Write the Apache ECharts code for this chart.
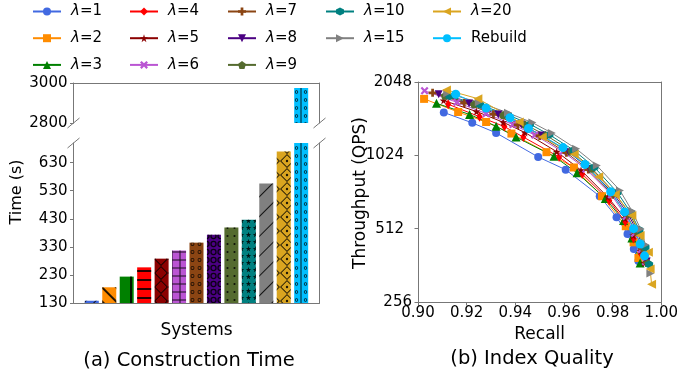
<!DOCTYPE html>
<html>
<head>
<meta charset="utf-8">
<script src="https://cdn.jsdelivr.net/npm/echarts@6/dist/echarts.min.js"></script>
<style>
  html, body { margin: 0; padding: 0; background: #fff; }
  #chart { width: 681px; height: 376px; }
</style>
</head>
<body>
<div id="chart"></div>
<script>
// ---- data ----
const systems = ['λ=1', 'λ=2', 'λ=3', 'λ=4', 'λ=5', 'λ=6', 'λ=7', 'λ=8', 'λ=9', 'λ=10', 'λ=15', 'λ=20', 'Rebuild'];
const buildTime = [138, 186, 224, 257, 288, 317, 345, 373, 399, 427, 556, 670, 2975];
const timeTicksLow = [130, 230, 330, 430, 530, 630];
const timeTicksHigh = [2800, 3000];
const qpsTicks = [256, 512, 1024, 2048];

const recall1 = [0.9106, 0.9223, 0.9321, 0.9494, 0.9607, 0.9747, 0.9816, 0.9861, 0.9887, 0.9906];
const qps1 = [1536, 1392, 1266, 1008, 894, 696, 571, 487, 422, 377];
const recall2 = [0.9025, 0.9165, 0.928, 0.9384, 0.9528, 0.9641, 0.9756, 0.9854, 0.9886, 0.9906];
const qps2 = [1746, 1542, 1403, 1258, 1055, 913, 696, 524, 450, 388];
const recall3 = [0.9076, 0.9212, 0.9321, 0.9403, 0.9559, 0.9654, 0.977, 0.9845, 0.9879, 0.9913];
const qps3 = [1674, 1507, 1348, 1217, 1014, 868, 681, 553, 469, 370];
const recall4 = [0.9124, 0.9253, 0.9355, 0.9433, 0.958, 0.9675, 0.9786, 0.9852, 0.9886, 0.9913];
const qps4 = [1660, 1475, 1344, 1217, 1008, 858, 668, 546, 467, 410];
const recall5 = [0.9105, 0.924, 0.935, 0.944, 0.957, 0.967, 0.978, 0.985, 0.9885, 0.9915, 0.993];
const qps5 = [1720, 1550, 1400, 1270, 1060, 890, 690, 565, 480, 415, 370];
const recall6 = [0.9027, 0.916, 0.928, 0.939, 0.948, 0.9595, 0.969, 0.9795, 0.9855, 0.989, 0.9918, 0.9935];
const qps6 = [1885, 1690, 1520, 1370, 1240, 1060, 900, 705, 575, 490, 420, 375];
const recall7 = [0.906, 0.919, 0.931, 0.941, 0.95, 0.961, 0.97, 0.98, 0.986, 0.9895, 0.992, 0.994];
const qps7 = [1848, 1680, 1510, 1365, 1230, 1050, 895, 705, 580, 495, 425, 372];
const recall8 = [0.9085, 0.921, 0.933, 0.9425, 0.951, 0.962, 0.9705, 0.9805, 0.9865, 0.99, 0.9925, 0.994];
const qps8 = [1826, 1670, 1505, 1370, 1235, 1055, 900, 710, 585, 500, 428, 375];
const recall9 = [0.911, 0.923, 0.935, 0.944, 0.9525, 0.963, 0.9715, 0.981, 0.987, 0.9905, 0.993, 0.9945];
const qps9 = [1800, 1660, 1500, 1370, 1240, 1065, 905, 715, 590, 500, 430, 370];
const recall10 = [0.913, 0.9255, 0.937, 0.946, 0.954, 0.964, 0.9725, 0.982, 0.9875, 0.991, 0.9935, 0.995];
const qps10 = [1790, 1650, 1500, 1375, 1245, 1075, 915, 720, 595, 505, 430, 365];
const recall15 = [0.912, 0.925, 0.937, 0.947, 0.955, 0.965, 0.9735, 0.983, 0.988, 0.9915, 0.9935, 0.9955];
const qps15 = [1840, 1690, 1530, 1395, 1265, 1090, 930, 735, 605, 510, 440, 335];
const recall20 = [0.9117, 0.9246, 0.9416, 0.9511, 0.9642, 0.9743, 0.9811, 0.9879, 0.9913, 0.9947, 0.9954, 0.996];
const qps20 = [1900, 1750, 1403, 1217, 1035, 837, 708, 580, 480, 410, 350, 303];
const recallRebuild = [0.9155, 0.928, 0.9378, 0.9454, 0.9596, 0.9686, 0.9792, 0.9849, 0.9886, 0.9913, 0.9931];
const qpsRebuild = [1826, 1600, 1460, 1320, 1102, 940, 726, 600, 512, 443, 396];

// ---- styles ----
const FONT = 'DejaVu Sans';
const SPINE = '#777';
const colors = ['#4169E1', '#FF8C00', '#008000', '#FF0000', '#8B0000', '#BA55D3', '#8B4513',
  '#4B0082', '#556B2F', '#008080', '#808080', '#DAA520', '#00BFFF'];

const ink = 'rgba(0,0,0,0.85)';
const ring = 'path://M10,0A10,10,0,1,1,9.99,0Z M10,4A6,6,0,1,0,10.01,4Z';
const diamondLattice = 'path://M7,0L14,7L7,14L0,7Z M7,1.3L1.3,7L7,12.7L12.7,7Z';
const diamondDot = 'path://M7,0L14,7L7,14L0,7Z M7,1.3L1.3,7L7,12.7L12.7,7Z M7,5.8A1.2,1.2,0,1,1,6.99,5.8Z';
const gridCell = 'path://M0,3.5H8V4.5H0Z M3.5,0H4.5V3.5H3.5Z M3.5,4.5H4.5V8H3.5Z';
const starPath = 'path://M50,0L61,35L98,35L68,57L79,91L50,70L21,91L32,57L2,35L39,35Z';
const rebuildCell = 'path://M6.5,0H7.5V8H6.5Z M2.5,2.3A1.7,1.7,0,1,1,2.49,2.3Z M2.5,3.1A0.9,0.9,0,1,0,2.51,3.1Z M11.5,2.3A1.7,1.7,0,1,1,11.49,2.3Z M11.5,3.1A0.9,0.9,0,1,0,11.51,3.1Z';

// hatch patterns like the matplotlib hatches of the original
const hatches = [
  { symbol: 'rect', dashArrayX: [1, 0], dashArrayY: [1, 6], rotation: -Math.PI / 4 },
  { symbol: 'rect', dashArrayX: [1, 0], dashArrayY: [1.3, 8], rotation: Math.PI / 4 },
  { symbol: 'rect', dashArrayX: [1.3, 24], dashArrayY: [1, 0] },
  { symbol: 'rect', dashArrayX: [1, 0], dashArrayY: [1.5, 6.5], rotation: 0 },
  { symbol: diamondLattice, dashArrayX: [14, 0], dashArrayY: [14, 0] },
  { symbol: gridCell, dashArrayX: [8, 0], dashArrayY: [8, 0] },
  { symbol: ring, symbolSize: 0.55, dashArrayX: [7, 0], dashArrayY: [8, 0] },
  { symbol: ring, symbolSize: 0.9, dashArrayX: [7, 0], dashArrayY: [8, 0] },
  { symbol: 'circle', symbolSize: 0.3, dashArrayX: [7, 0], dashArrayY: [8, 0] },
  { symbol: starPath, symbolSize: 0.8, dashArrayX: [7, 0], dashArrayY: [7, 0] },
  { symbol: 'rect', dashArrayX: [1, 0], dashArrayY: [1, 13], rotation: -Math.PI / 4 },
  { symbol: diamondDot, dashArrayX: [14, 0], dashArrayY: [14, 0] },
  { symbol: rebuildCell, dashArrayX: [14, 0], dashArrayY: [8, 0] }
];

const marks = {
  circle: 'circle',
  square: 'rect',
  triUp: 'triangle',
  diamond: 'diamond',
  star: starPath,
  xMark: 'path://M2,0L5,3L8,0L10,2L7,5L10,8L8,10L5,7L2,10L0,8L3,5L0,2Z',
  plus: 'path://M3.3,0H6.7V3.3H10V6.7H6.7V10H3.3V6.7H0V3.3H3.3Z',
  triDown: 'path://M0,0L10,0L5,9Z',
  pentagon: 'path://M50,0L97.6,34.5L79.4,90.5L20.6,90.5L2.4,34.5Z',
  hexagon: 'path://M50,0L93.3,25L93.3,75L50,100L6.7,75L6.7,25Z',
  triRight: 'path://M0,0L9,5L0,10Z',
  triLeft: 'path://M9,0L0,5L9,10Z'
};

const curves = [
  { name: 'λ=1', recall: recall1, qps: qps1, symbol: marks.circle, size: 8 },
  { name: 'λ=2', recall: recall2, qps: qps2, symbol: marks.square, size: 8 },
  { name: 'λ=3', recall: recall3, qps: qps3, symbol: marks.triUp, size: 9 },
  { name: 'λ=4', recall: recall4, qps: qps4, symbol: marks.diamond, size: [6, 10] },
  { name: 'λ=5', recall: recall5, qps: qps5, symbol: marks.star, size: 8 },
  { name: 'λ=6', recall: recall6, qps: qps6, symbol: marks.xMark, size: 8 },
  { name: 'λ=7', recall: recall7, qps: qps7, symbol: marks.plus, size: 8 },
  { name: 'λ=8', recall: recall8, qps: qps8, symbol: marks.triDown, size: 8 },
  { name: 'λ=9', recall: recall9, qps: qps9, symbol: marks.pentagon, size: 8 },
  { name: 'λ=10', recall: recall10, qps: qps10, symbol: marks.hexagon, size: 8 },
  { name: 'λ=15', recall: recall15, qps: qps15, symbol: marks.triRight, size: 8 },
  { name: 'λ=20', recall: recall20, qps: qps20, symbol: marks.triLeft, size: 9 },
  { name: 'Rebuild', recall: recallRebuild, qps: qpsRebuild, symbol: marks.circle, size: 9 }
];

const myChart = echarts.init(document.getElementById('chart'));

// bars: x position is the system index
const barData = buildTime.map((v, i) => ({
  value: [i, v],
  name: systems[i],
  itemStyle: { color: colors[i], decal: Object.assign({ color: ink }, hatches[i]) }
}));

const tickLabel = { fontFamily: FONT, fontSize: 15, color: '#000' };
const spineOnly = (gridIndex, position) => ({
  gridIndex: gridIndex,
  position: position,
  type: 'value',
  axisLine: { show: true, onZero: false, lineStyle: { color: SPINE } },
  axisTick: { show: false },
  axisLabel: { show: false },
  splitLine: { show: false }
});

// legend, one component per column (matplotlib fills columns first)
const legendCols = [
  { left: 27, names: ['λ=1', 'λ=2', 'λ=3'] },
  { left: 124, names: ['λ=4', 'λ=5', 'λ=6'] },
  { left: 222, names: ['λ=7', 'λ=8', 'λ=9'] },
  { left: 320, names: ['λ=10', 'λ=15'] },
  { left: 427, names: ['λ=20', 'Rebuild'] }
];

const breakMark = (cx, cy) => ({
  type: 'line',
  shape: { x1: cx - 6, y1: cy + 5, x2: cx + 6, y2: cy - 5 },
  style: { stroke: SPINE, lineWidth: 1 }
});

const option = {
  animation: false,
  legend: legendCols.map(c => ({
    orient: 'vertical',
    left: c.left,
    top: -2,
    data: c.names,
    selectedMode: false,
    itemWidth: 28,
    itemHeight: 10,
    itemGap: 9.7,
    formatter: n => n.startsWith('λ') ? '{i|λ}' + n.slice(1) : n,
    textStyle: {
      fontFamily: FONT, fontSize: 15, color: '#000', lineHeight: 17, padding: [0, 0, 0, 5],
      rich: { i: { fontFamily: FONT, fontSize: 15, fontStyle: 'italic', color: '#000' } }
    }
  })),
  grid: [
    { left: 73.5, width: 246, top: 83, height: 40 },
    { left: 73.5, width: 246, top: 143, height: 160 },
    { left: 418, width: 245, top: 82, height: 220 }
  ],
  xAxis: [
    Object.assign(spineOnly(0, 'top'), { min: -1.05, max: 13.05 }),
    Object.assign(spineOnly(1, 'bottom'), {
      min: -1.05, max: 13.05,
      name: 'Systems', nameLocation: 'middle', nameGap: 19,
      nameTextStyle: { fontFamily: FONT, fontSize: 17, color: '#000' }
    }),
    {
      gridIndex: 2, type: 'value', min: 0.9, max: 1.0, interval: 0.02,
      name: 'Recall', nameLocation: 'middle', nameGap: 22,
      nameTextStyle: { fontFamily: FONT, fontSize: 17, color: '#000' },
      axisLine: { onZero: false, lineStyle: { color: SPINE } },
      axisTick: { length: 3.5, lineStyle: { color: SPINE } },
      axisLabel: Object.assign({ margin: 4, formatter: v => v.toFixed(2) }, tickLabel),
      splitLine: { show: false }
    },
    Object.assign(spineOnly(2, 'top'), { min: 0.9, max: 1.0 })
  ],
  yAxis: [
    {
      gridIndex: 0, type: 'value', min: 2800, max: 3000, interval: 200,
      axisLine: { show: true, onZero: false, lineStyle: { color: SPINE } },
      axisTick: { length: 3.5, lineStyle: { color: SPINE } },
      axisLabel: Object.assign({ margin: 6, customValues: timeTicksHigh, formatter: v => String(v) }, tickLabel),
      splitLine: { show: false }
    },
    Object.assign(spineOnly(0, 'right'), { min: 2800, max: 3000 }),
    {
      gridIndex: 1, type: 'value', min: 130, max: 700,
      axisLine: { show: true, onZero: false, lineStyle: { color: SPINE } },
      axisTick: { length: 3.5, customValues: timeTicksLow, lineStyle: { color: SPINE } },
      axisLabel: Object.assign({ margin: 6, customValues: timeTicksLow, formatter: v => String(v) }, tickLabel),
      splitLine: { show: false }
    },
    Object.assign(spineOnly(1, 'right'), { min: 130, max: 700 }),
    {
      gridIndex: 2, type: 'log', logBase: 2, min: 256, max: 2048,
      axisLine: { show: true, onZero: false, lineStyle: { color: SPINE } },
      axisTick: { length: 3.5, customValues: qpsTicks, lineStyle: { color: SPINE } },
      axisLabel: Object.assign({
        margin: 6, customValues: qpsTicks,
        formatter: v => (v === 512 || v === 1024) ? '{p|' + v + '}' : String(v),
        rich: { p: { fontFamily: FONT, fontSize: 15, color: '#000', padding: [0, 8, 0, 0] } }
      }, tickLabel),
      splitLine: { show: false }
    },
    Object.assign(spineOnly(2, 'right'), { type: 'log', logBase: 2, min: 256, max: 2048 })
  ],
  series: [
    { name: 'Time', type: 'bar', xAxisIndex: 0, yAxisIndex: 0, barWidth: 14, data: barData, clip: true },
    { name: 'Time', type: 'bar', xAxisIndex: 1, yAxisIndex: 2, barWidth: 14, data: barData, clip: true }
  ].concat(curves.map((c, i) => ({
    name: c.name,
    type: 'line',
    xAxisIndex: 2,
    yAxisIndex: 4,
    data: c.recall.map((r, k) => [r, c.qps[k]]),
    symbol: c.symbol,
    symbolSize: c.size,
    showAllSymbol: true,
    color: colors[i],
    lineStyle: { width: 1, color: colors[i] },
    itemStyle: { color: colors[i] }
  }))),
  graphic: [
    breakMark(73.5, 123), breakMark(73.5, 143),
    breakMark(319.5, 123), breakMark(319.5, 143),
    {
      type: 'text', x: 17, y: 192, rotation: Math.PI / 2,
      style: { text: 'Time (s)', fontFamily: FONT, fontSize: 16, fill: '#000', align: 'center', verticalAlign: 'middle' }
    },
    {
      type: 'text', x: 361, y: 193, rotation: Math.PI / 2,
      style: { text: 'Throughput (QPS)', fontFamily: FONT, fontSize: 17, fill: '#000', align: 'center', verticalAlign: 'middle' }
    },
    {
      type: 'text', x: 189, y: 361,
      style: { text: '(a) Construction Time', fontFamily: FONT, fontSize: 19.5, fill: '#000', align: 'center', verticalAlign: 'middle' }
    },
    {
      type: 'text', x: 532, y: 359,
      style: { text: '(b) Index Quality', fontFamily: FONT, fontSize: 19.5, fill: '#000', align: 'center', verticalAlign: 'middle' }
    }
  ]
};
option && myChart.setOption(option);
</script>
</body>
</html>
